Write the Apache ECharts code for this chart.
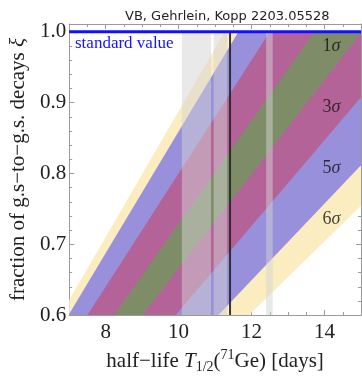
<!DOCTYPE html>
<html>
<head>
<meta charset="utf-8">
<script src="https://cdn.jsdelivr.net/npm/echarts@6/dist/echarts.min.js"></script>
<style>html,body{margin:0;padding:0;background:#fff;}#c{width:362px;height:379px;}</style>
</head>
<body>
<div id="c"></div>
<script>
// ---- data ----
const xMin = 7, xMax = 15, yMin = 0.6, yMax = 1.011, xiStandard = 1.0;
const xTickLabels = [8, 10, 12, 14];
const xMajorTicks = [8, 10, 12, 14];
const xMinorTicks = [7, 7.5, 8.5, 9, 9.5, 10.5, 11, 11.5, 12.5, 13, 13.5, 14.5];
const yTickLabels = [0.6, 0.7, 0.8, 0.9, 1.0];
const yMinorTicks = [0.62, 0.64, 0.66, 0.68, 0.72, 0.74, 0.76, 0.78, 0.82, 0.84, 0.86, 0.88, 0.92, 0.94, 0.96, 0.98];

// bands (outer to inner): half-life where each edge meets xi = 0.6 and xi = 1.0
const bandNames = ['6σ', '5σ', '3σ', '1σ'];
const bandLeftAtBottom  = [6.76, 6.98, 7.50, 8.23];
const bandLeftAtTop     = [11.26, 11.64, 12.50, 13.72];
const bandRightAtBottom = [11.93, 11.09, 9.92, 9.01];
const bandRightAtTop    = [19.88, 18.48, 16.53, 15.02];
const bandColors = ['#FCEDC1', '#9890DA', '#B46399', '#7E8D68'];
const labelT  = [14.19, 14.19, 14.19, 14.19];
const labelXi = [0.736, 0.808, 0.893, 0.980];

// vertical measurement bands and reference half-life
const grayBandStart = [10.09, 10.96, 12.40];
const grayBandEnd   = [10.89, 11.33, 12.58];
const referenceT = 11.41;

const serif = 'Liberation Serif';
const frameColor = '#9a9a9a';

const bandData = bandNames.map((n, i) => [i, bandLeftAtBottom[i], bandLeftAtTop[i], bandRightAtBottom[i], bandRightAtTop[i]]);
const grayData = grayBandStart.map((s, i) => [s, grayBandEnd[i]]);
const labelData = bandNames.map((n, i) => ({ value: [labelT[i], labelXi[i]], name: n }));

function clipGroup(params, child) {
  const cs = params.coordSys;
  return { type: 'group', clipPath: { type: 'rect', shape: { x: cs.x, y: cs.y, width: cs.width, height: cs.height } }, children: [child] };
}

function xAxisDef(pos, major, showLabel) {
  return {
    type: 'value', min: xMin, max: xMax, position: pos,
    axisLine: { show: major, onZero: false, lineStyle: { color: frameColor, width: 1 } },
    axisTick: { show: true, inside: true, length: major ? 5 : 3, customValues: major ? xMajorTicks : xMinorTicks, lineStyle: { color: frameColor } },
    axisLabel: showLabel ? { show: true, customValues: xTickLabels, margin: 7, fontFamily: serif, fontSize: 21, color: '#222' } : { show: false },
    splitLine: { show: false }
  };
}
function yAxisDef(pos, major, showLabel) {
  return {
    type: 'value', min: yMin, max: yMax, position: pos,
    axisLine: { show: major, onZero: false, lineStyle: { color: frameColor, width: 1 } },
    axisTick: { show: true, inside: true, length: major ? 5 : 3, customValues: major ? yTickLabels : yMinorTicks, lineStyle: { color: frameColor } },
    axisLabel: showLabel ? { show: true, customValues: yTickLabels, margin: 3, fontFamily: serif, fontSize: 21, color: '#222', formatter: v => v.toFixed(1) } : { show: false },
    splitLine: { show: false }
  };
}

const xs = [xAxisDef('bottom', true, true), xAxisDef('bottom', false, false), xAxisDef('top', true, false), xAxisDef('top', false, false)];
const ys = [yAxisDef('left', true, true), yAxisDef('left', false, false), yAxisDef('right', true, false), yAxisDef('right', false, false)];

xs[0].name = '{n|half−life }{i|T}{sub|1/2}{n|(}{sup|71}{n|Ge) [days]}';
xs[0].nameLocation = 'middle';
xs[0].nameGap = 32;
xs[0].nameTextStyle = {
  rich: {
    n: { fontFamily: serif, fontSize: 21, color: '#222', lineHeight: 26 },
    i: { fontFamily: serif, fontSize: 21, fontStyle: 'italic', color: '#222', lineHeight: 26 },
    sub: { fontFamily: serif, fontSize: 14, color: '#222', lineHeight: 14, verticalAlign: 'bottom' },
    sup: { fontFamily: serif, fontSize: 14, color: '#222', lineHeight: 14, verticalAlign: 'top' }
  }
};
ys[0].name = '{n|fraction of g.s−to−g.s. decays }{i|ξ}';
ys[0].nameLocation = 'middle';
ys[0].nameRotate = 90;
ys[0].nameGap = 34;
ys[0].nameTextStyle = {
  rich: {
    n: { fontFamily: serif, fontSize: 21, color: '#222', lineHeight: 24 },
    i: { fontFamily: serif, fontSize: 21, fontStyle: 'italic', color: '#222', lineHeight: 24 }
  }
};

const chart = echarts.init(document.getElementById('c'), null, { renderer: 'canvas' });
chart.setOption({
  animation: false,
  backgroundColor: '#fff',
  title: {
    text: 'VB, Gehrlein, Kopp 2203.05528', left: 120, top: 5,
    textStyle: { fontFamily: 'DejaVu Sans', fontSize: 13, fontWeight: 'normal', color: '#222' }
  },
  grid: { left: 64, top: 24, width: 297, height: 299.3, containLabel: false },
  xAxis: xs,
  yAxis: ys,
  graphic: [{
    type: 'text', left: 75, top: 35, z: 100,
    style: { text: 'standard value', font: '17px "Liberation Serif"', fill: '#1414ff' }
  }],
  series: [
    {
      type: 'custom', clip: true, z: 1,
      data: bandData,
      encode: { x: 1, y: -1 },
      renderItem: function (params, api) {
        const i = api.value(0);
        const pts = [
          api.coord([api.value(1), yMin]),
          api.coord([api.value(2), xiStandard]),
          api.coord([api.value(4), xiStandard]),
          api.coord([api.value(3), yMin])
        ];
        return clipGroup(params, { type: 'polygon', shape: { points: pts }, style: { fill: bandColors[i], stroke: null } });
      }
    },
    {
      type: 'custom', clip: true, z: 2,
      data: grayData,
      encode: { x: [0, 1], y: -1 },
      renderItem: function (params, api) {
        const p1 = api.coord([api.value(0), xiStandard]);
        const p2 = api.coord([api.value(1), yMin]);
        return clipGroup(params, { type: 'rect', shape: { x: p1[0], y: p1[1], width: p2[0] - p1[0], height: p2[1] - p1[1] }, style: { fill: 'rgba(212,212,212,0.5)' } });
      }
    },
    {
      type: 'line', z: 3, symbol: 'none', silent: true,
      data: [[referenceT, yMin], [referenceT, xiStandard]],
      lineStyle: { color: 'rgba(35,35,35,0.9)', width: 2 }
    },
    {
      type: 'line', z: 4, symbol: 'none', silent: true, clip: false,
      data: [[xMin, xiStandard], [xMax, xiStandard]],
      lineStyle: { color: '#1010ff', width: 3 }
    },
    {
      type: 'scatter', z: 5, symbolSize: 0, silent: true,
      data: labelData,
      label: {
        show: true, position: 'inside',
        formatter: p => '{a|' + p.name.slice(0, -1) + '}{b|σ}',
        rich: {
          a: { fontFamily: serif, fontSize: 18, color: '#111' },
          b: { fontFamily: serif, fontSize: 18, fontStyle: 'italic', color: '#111' }
        }
      }
    }
  ]
});
</script>
</body>
</html>
